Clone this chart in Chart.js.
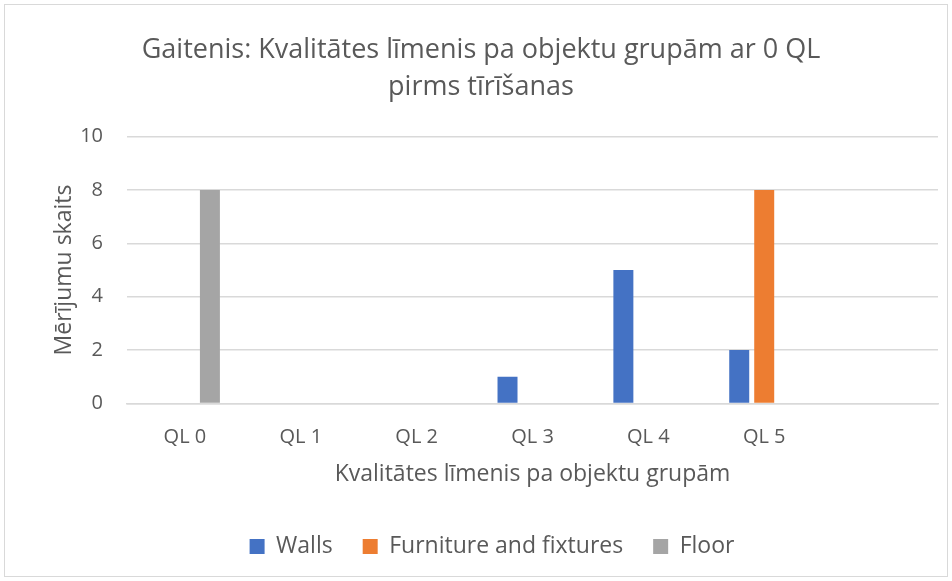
<!DOCTYPE html>
<html>
<head>
<meta charset="utf-8">
<script src="https://cdn.jsdelivr.net/npm/chart.js@4"></script>
<style>
  body { margin: 0; background: #fff; }
  #wrap { position: relative; width: 952px; height: 581px; }
</style>
</head>
<body>
<div id="wrap"><canvas id="chart" width="952" height="581"></canvas></div>
<script>
const categories = ['QL 0', 'QL 1', 'QL 2', 'QL 3', 'QL 4', 'QL 5', ''];
const walls = [0, 0, 0, 1, 5, 2, null];
const furniture = [0, 0, 0, 0, 0, 8, null];
const floor = [8, 0, 0, 0, 0, 0, null];
const yTicks = [0, 2, 4, 6, 8, 10];

const textColor = '#595959';
const fontFamily = "'Open Sans', 'Liberation Sans', sans-serif";

// thin grey frame round the whole chart
const framePlugin = {
    id: 'frame',
    beforeDraw(chart) {
        const ctx = chart.ctx;
        ctx.save();
        ctx.fillStyle = '#fff';
        ctx.fillRect(0, 0, chart.width, chart.height);
        ctx.strokeStyle = '#D9D9D9';
        ctx.lineWidth = 1;
        ctx.strokeRect(4.5, 4.5, 943, 572);
        ctx.restore();
    }
};

// legend sits a bit right of the title centre in the original
const legendShift = {
    id: 'legendShift',
    afterLayout(chart) {
        if (chart.legend) {
            chart.legend.left += 11;
            chart.legend.right += 11;
        }
    }
};

new Chart(document.getElementById('chart').getContext('2d'), {
    type: 'bar',
    data: {
        labels: categories,
        datasets: [
            { label: 'Walls', data: walls, backgroundColor: '#4472C4' },
            { label: 'Furniture and fixtures', data: furniture, backgroundColor: '#ED7D31' },
            { label: 'Floor', data: floor, backgroundColor: '#A5A5A5' }
        ]
    },
    options: {
        responsive: false,
        animation: false,
        datasets: { bar: { categoryPercentage: 0.647, barPercentage: 0.8 } },
        layout: { padding: { left: 24, right: 14, top: 20, bottom: 13 } },
        plugins: {
            title: {
                display: true,
                text: ['Gaitenis: Kvalitātes līmenis pa objektu grupām ar 0 QL', 'pirms tīrīšanas'],
                color: textColor,
                font: { family: fontFamily, size: 27, weight: 'normal', lineHeight: 1.4 },
                padding: { top: 11, bottom: 30 }
            },
            legend: {
                position: 'bottom',
                labels: {
                    color: textColor,
                    font: { family: fontFamily, size: 23 },
                    boxWidth: 15, boxHeight: 15, padding: 30
                }
            },
            tooltip: { enabled: false }
        },
        scales: {
            x: {
                grid: { display: false },
                border: { color: '#D9D9D9', width: 1.5 },
                ticks: { color: textColor, font: { family: fontFamily, size: 20 }, padding: 14, maxRotation: 0 },
                title: {
                    display: true, text: 'Kvalitātes līmenis pa objektu grupām',
                    color: textColor, font: { family: fontFamily, size: 23 }, padding: { top: -3, bottom: 17 }
                }
            },
            y: {
                min: 0, max: 10,
                afterBuildTicks(axis) { axis.ticks = yTicks.map(v => ({ value: v })); },
                afterFit(axis) { axis.width = 103; },
                grid: { color: '#D9D9D9', lineWidth: 1.5, drawTicks: false },
                border: { display: false },
                ticks: { color: textColor, font: { family: fontFamily, size: 20 }, padding: 24 },
                title: {
                    display: true, text: 'Mērījumu skaits',
                    color: textColor, font: { family: fontFamily, size: 23 }, padding: { top: 27, bottom: 0 }
                }
            }
        }
    },
    plugins: [framePlugin, legendShift]
});
</script>
</body>
</html>
